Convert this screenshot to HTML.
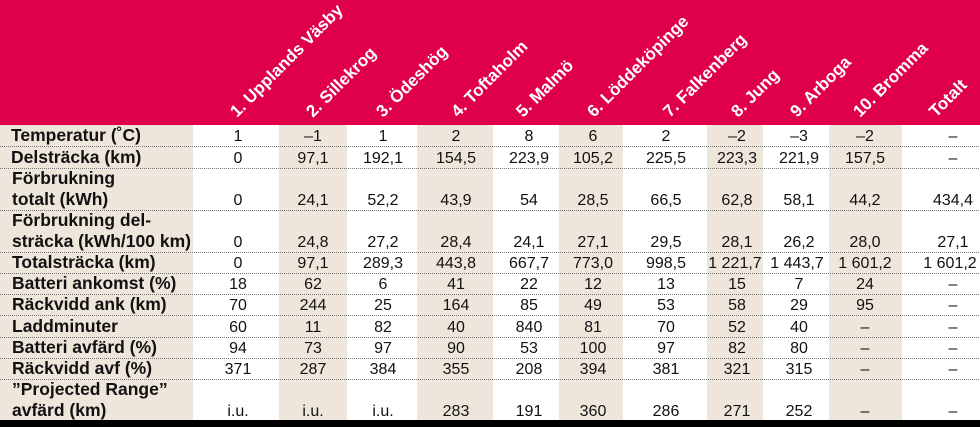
<!DOCTYPE html>
<html><head><meta charset="utf-8"><style>
html,body{margin:0;padding:0;background:#fff}
svg{display:block}
.l{font-family:"Liberation Sans",sans-serif;font-weight:bold;font-size:17.5px;fill:#111}
.v{font-family:"Liberation Sans",sans-serif;font-size:16px;fill:#111;text-anchor:middle}
.h{font-family:"Liberation Sans",sans-serif;font-weight:bold;font-size:17px;fill:#fff}
</style></head><body>
<svg width="980" height="427" xmlns="http://www.w3.org/2000/svg">
<rect width="980" height="427" fill="#fff"/>
<rect x="0" y="0" width="980" height="125" fill="#e0004a"/>
<g fill="#efe6db">
<rect x="0" y="125" width="193" height="295"/>
<rect x="279" y="125" width="68" height="295"/>
<rect x="417" y="125" width="76" height="295"/>
<rect x="559" y="125" width="64" height="295"/>
<rect x="707" y="125" width="56" height="295"/>
<rect x="829" y="125" width="73" height="295"/>
</g>
<g stroke="#777" stroke-width="1" stroke-dasharray="1,1">
<line x1="0" x2="980" y1="146.5" y2="146.5"/>
<line x1="0" x2="980" y1="168.5" y2="168.5"/>
<line x1="0" x2="980" y1="210.5" y2="210.5"/>
<line x1="0" x2="980" y1="252.5" y2="252.5"/>
<line x1="0" x2="980" y1="273.5" y2="273.5"/>
<line x1="0" x2="980" y1="294.5" y2="294.5"/>
<line x1="0" x2="980" y1="315.5" y2="315.5"/>
<line x1="0" x2="980" y1="337.5" y2="337.5"/>
<line x1="0" x2="980" y1="358.5" y2="358.5"/>
<line x1="0" x2="980" y1="379.5" y2="379.5"/>
</g>
<rect x="0" y="420" width="980" height="7" fill="#000"/>
<g class="h">
<text transform="translate(237,118) rotate(-45)">1. Upplands Väsby</text>
<text transform="translate(313,118) rotate(-45)">2. Sillekrog</text>
<text transform="translate(383,118) rotate(-45)">3. Ödeshög</text>
<text transform="translate(458,118) rotate(-45)">4. Toftaholm</text>
<text transform="translate(523,118) rotate(-45)">5. Malmö</text>
<text transform="translate(594,118) rotate(-45)">6. Löddeköpinge</text>
<text transform="translate(670,118) rotate(-45)">7. Falkenberg</text>
<text transform="translate(738,118) rotate(-45)">8. Jung</text>
<text transform="translate(797,118) rotate(-45)">9. Arboga</text>
<text transform="translate(860,118) rotate(-45)">10. Bromma</text>
<text transform="translate(936,118) rotate(-45)">Totalt</text>
</g>
<g class="l">
<text x="11" y="141">Temperatur (˚C)</text>
<text x="11" y="163">Delsträcka (km)</text>
<text x="12" y="184">Förbrukning</text>
<text x="12" y="205">totalt (kWh)</text>
<text x="12" y="226">Förbrukning del-</text>
<text x="12" y="247">sträcka (kWh/100 km)</text>
<text x="12" y="268">Totalsträcka (km)</text>
<text x="12" y="289">Batteri ankomst (%)</text>
<text x="12" y="310">Räckvidd ank (km)</text>
<text x="12" y="332">Laddminuter</text>
<text x="12" y="353">Batteri avfärd (%)</text>
<text x="12" y="374">Räckvidd avf (%)</text>
<text x="12" y="395">”Projected Range”</text>
<text x="12" y="416">avfärd (km)</text>
</g>
<g class="v">
<g transform="translate(0,141)"><text x="238">1</text><text x="313">–1</text><text x="383">1</text><text x="456">2</text><text x="529">8</text><text x="593">6</text><text x="666">2</text><text x="737">–2</text><text x="799">–3</text><text x="865">–2</text><text x="953">–</text></g>
<g transform="translate(0,163)"><text x="238">0</text><text x="313">97,1</text><text x="383">192,1</text><text x="456">154,5</text><text x="529">223,9</text><text x="593">105,2</text><text x="666">225,5</text><text x="737">223,3</text><text x="799">221,9</text><text x="865">157,5</text><text x="953">–</text></g>
<g transform="translate(0,205)"><text x="238">0</text><text x="313">24,1</text><text x="383">52,2</text><text x="456">43,9</text><text x="529">54</text><text x="593">28,5</text><text x="666">66,5</text><text x="737">62,8</text><text x="799">58,1</text><text x="865">44,2</text><text x="953">434,4</text></g>
<g transform="translate(0,247)"><text x="238">0</text><text x="313">24,8</text><text x="383">27,2</text><text x="456">28,4</text><text x="529">24,1</text><text x="593">27,1</text><text x="666">29,5</text><text x="737">28,1</text><text x="799">26,2</text><text x="865">28,0</text><text x="953">27,1</text></g>
<g transform="translate(0,268)"><text x="238">0</text><text x="313">97,1</text><text x="383">289,3</text><text x="456">443,8</text><text x="529">667,7</text><text x="593">773,0</text><text x="666">998,5</text><text x="735">1 221,7</text><text x="797">1 443,7</text><text x="865">1 601,2</text><text x="950">1 601,2</text></g>
<g transform="translate(0,289)"><text x="238">18</text><text x="313">62</text><text x="383">6</text><text x="456">41</text><text x="529">22</text><text x="593">12</text><text x="666">13</text><text x="737">15</text><text x="799">7</text><text x="865">24</text><text x="953">–</text></g>
<g transform="translate(0,310)"><text x="238">70</text><text x="313">244</text><text x="383">25</text><text x="456">164</text><text x="529">85</text><text x="593">49</text><text x="666">53</text><text x="737">58</text><text x="799">29</text><text x="865">95</text><text x="953">–</text></g>
<g transform="translate(0,332)"><text x="238">60</text><text x="313">11</text><text x="383">82</text><text x="456">40</text><text x="529">840</text><text x="593">81</text><text x="666">70</text><text x="737">52</text><text x="799">40</text><text x="865">–</text><text x="953">–</text></g>
<g transform="translate(0,353)"><text x="238">94</text><text x="313">73</text><text x="383">97</text><text x="456">90</text><text x="529">53</text><text x="593">100</text><text x="666">97</text><text x="737">82</text><text x="799">80</text><text x="865">–</text><text x="953">–</text></g>
<g transform="translate(0,374)"><text x="238">371</text><text x="313">287</text><text x="383">384</text><text x="456">355</text><text x="529">208</text><text x="593">394</text><text x="666">381</text><text x="737">321</text><text x="799">315</text><text x="865">–</text><text x="953">–</text></g>
<g transform="translate(0,416)"><text x="238">i.u.</text><text x="313">i.u.</text><text x="383">i.u.</text><text x="456">283</text><text x="529">191</text><text x="593">360</text><text x="666">286</text><text x="737">271</text><text x="799">252</text><text x="865">–</text><text x="953">–</text></g>
</g>
</svg>
</body></html>
